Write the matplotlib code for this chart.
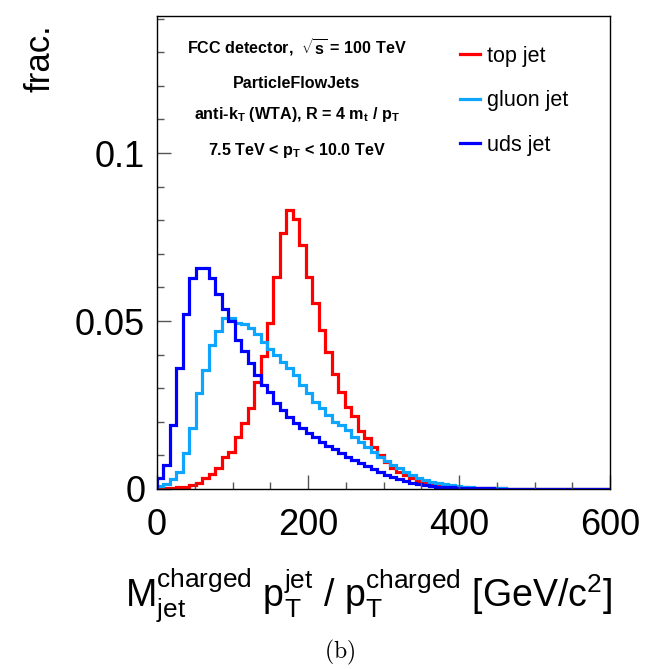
import numpy as np
import matplotlib
matplotlib.use("Agg")
import matplotlib.pyplot as plt
from matplotlib.ticker import MultipleLocator, FixedLocator, FixedFormatter

plt.rcParams['font.family'] = ['Liberation Sans', 'DejaVu Sans']
plt.rcParams['mathtext.fontset'] = 'custom'
plt.rcParams['mathtext.rm'] = 'Liberation Sans'
plt.rcParams['mathtext.it'] = 'Liberation Sans:italic'
plt.rcParams['mathtext.bf'] = 'Liberation Sans:bold'
plt.rcParams['mathtext.sf'] = 'Liberation Sans'

# ---------------- data ----------------
x_min, x_max, n_bins = 0.0, 600.0, 70

top_jet = [0.0002, 0.0003, 0.0004, 0.0005, 0.0007, 0.0011, 0.0019, 0.0033, 0.0046, 0.0062,
           0.0096, 0.0111, 0.0155, 0.0195, 0.0241, 0.0320, 0.0396, 0.0493, 0.0632, 0.0761,
           0.0832, 0.0804, 0.0726, 0.0632, 0.0554, 0.0473, 0.0409, 0.0341, 0.0290, 0.0245,
           0.0218, 0.0174, 0.0152, 0.0124, 0.0101, 0.0081, 0.0064, 0.0052, 0.0042, 0.0032,
           0.0025, 0.0020, 0.0016, 0.0012, 0.0010, 0.0008, 0.0006, 0.0005, 0.0004, 0.0003,
           0.0003, 0.0002, 0.0002, 0.0002, 0.0001, 0.0001, 0.0001, 0.0001, 0.0001, 0.0001,
           0.0001, 0.0001, 0.0001, 0.0, 0.0, 0.0, 0.0, 0.0, 0.0, 0.0]

gluon_jet = [0.0010, 0.0015, 0.0030, 0.0050, 0.0108, 0.0182, 0.0285, 0.0354, 0.0428, 0.0470,
             0.0508, 0.0508, 0.0495, 0.0490, 0.0480, 0.0462, 0.0438, 0.0417, 0.0400, 0.0379,
             0.0359, 0.0339, 0.0310, 0.0285, 0.0260, 0.0240, 0.0220, 0.0200, 0.0190, 0.0176,
             0.0156, 0.0141, 0.0126, 0.0111, 0.0096, 0.0083, 0.0071, 0.0062, 0.0052, 0.0042,
             0.0034, 0.0027, 0.0022, 0.0018, 0.0015, 0.0012, 0.0009, 0.0007, 0.0005, 0.0004,
             0.0003, 0.0003, 0.0002, 0.0002, 0.0001, 0.0001, 0.0001, 0.0001, 0.0001, 0.0001,
             0.0001, 0.0, 0.0, 0.0, 0.0, 0.0, 0.0, 0.0, 0.0, 0.0]

uds_jet = [0.0034, 0.0072, 0.0190, 0.0360, 0.0520, 0.0627, 0.0657, 0.0657, 0.0627, 0.0580,
           0.0535, 0.0500, 0.0443, 0.0410, 0.0374, 0.0340, 0.0310, 0.0290, 0.0255, 0.0235,
           0.0215, 0.0195, 0.0182, 0.0166, 0.0155, 0.0141, 0.0128, 0.0118, 0.0106, 0.0096,
           0.0085, 0.0076, 0.0067, 0.0059, 0.0050, 0.0043, 0.0037, 0.0030, 0.0024, 0.0019,
           0.0015, 0.0012, 0.0009, 0.0007, 0.0006, 0.0005, 0.0004, 0.0003, 0.0003, 0.0002,
           0.0002, 0.0002, 0.0001, 0.0001, 0.0001, 0.0001, 0.0001, 0.0001, 0.0001, 0.0001,
           0.0, 0.0, 0.0, 0.0, 0.0, 0.0, 0.0, 0.0, 0.0, 0.0]

series_labels = ["top jet", "gluon jet", "uds jet"]
series_colors = ["#ff0000", "#0ea5ff", "#0000ff"]

x_ticks = [0, 200, 400, 600]
x_ticklabels = ["0", "200", "400", "600"]
y_ticks = [0.0, 0.05, 0.1]
y_ticklabels = ["0", "0.05", "0.1"]

info_lines = [r"FCC detector,  $\sqrt{\mathbf{s}}$ = 100 TeV",
              r"ParticleFlowJets",
              r"anti-$\mathbf{k}_{\mathbf{T}}$ (WTA), R = 4 $\mathbf{m}_{\mathbf{t}}$ / $\mathbf{p}_{\mathbf{T}}$",
              r"7.5 TeV < $\mathbf{p}_{\mathbf{T}}$ < 10.0 TeV"]

# ---------------- figure ----------------
W, H = 646, 669
fig = plt.figure(figsize=(W / 100, H / 100), dpi=100)
L, R, T, B = 157, 610, 16, 489
ax = fig.add_axes([L / W, 1 - B / H, (R - L) / W, (B - T) / H])

edges = np.linspace(x_min, x_max, n_bins + 1)
for vals, lab, col in zip([top_jet, gluon_jet, uds_jet], series_labels, series_colors):
    ax.stairs(vals, edges, baseline=0, color=col, linewidth=2.3, label=lab)

ax.set_xlim(0, 600)
ax.set_ylim(0, 0.1408)

ax.xaxis.set_major_locator(FixedLocator(x_ticks))
ax.xaxis.set_major_formatter(FixedFormatter(x_ticklabels))
ax.xaxis.set_minor_locator(MultipleLocator(50))
ax.yaxis.set_major_locator(FixedLocator(y_ticks))
ax.yaxis.set_major_formatter(FixedFormatter(y_ticklabels))
ax.yaxis.set_minor_locator(MultipleLocator(0.01))

ax.tick_params(which='both', direction='in', top=False, right=False, color='#555555', width=1.0)
ax.tick_params(which='major', length=10)
ax.tick_params(which='minor', length=5)
ax.tick_params(axis='x', which='major', labelsize=26, pad=14)
ax.tick_params(axis='y', which='major', labelsize=26, pad=8.5)
for s in ax.spines.values():
    s.set_linewidth(1.0)
    s.set_color('black')

# info text block
info_y = [47, 84, 115, 150]
for txt, yp in zip(info_lines, info_y):
    fig.text(297 / W, 1 - yp / H, txt, ha='center', va='center', fontsize=11.6, fontweight='bold')

# legend
leg = ax.legend(loc='upper left', bbox_to_anchor=((460 - L) / (R - L), (B - 46) / (B - T)),
                frameon=False, fontsize=15.5, handlelength=0.95, handletextpad=0.3,
                labelspacing=1.08, borderaxespad=0, borderpad=0)

# axis titles
fig.text(40 / W, 1 - 24 / H, "frac.", rotation=90, ha='center', va='top', fontsize=25)
fig.text(612 / W, 1 - 606 / H,
         r"$\mathregular{M_{jet}^{charged}\ p_{T}^{jet}\ /\ p_{T}^{charged}\ [GeV/c^{2}]}$",
         ha='right', va='baseline', fontsize=27)
fig.text(340 / W, 1 - 658 / H, r"$\mathrm{(b)}$", ha='center', va='baseline', fontsize=17,
         math_fontfamily='cm')

fig.savefig("out.png", dpi=100)
